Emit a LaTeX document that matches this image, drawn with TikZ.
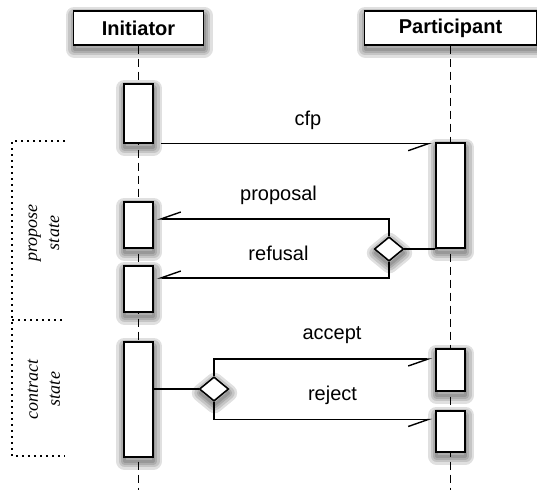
\documentclass[tikz,border=0pt]{standalone}
\usepackage{fontspec}
\setmainfont{Liberation Sans}
\newfontfamily\statefont{Liberation Serif}
\usetikzlibrary{arrows.meta,shapes.geometric,shadows}

\begin{document}
\begin{tikzpicture}[x=1pt, y=-1pt,
    haze/.style={general shadow={shadow xshift=0.5pt, shadow yshift=-4pt, draw=black,
        line join=round, draw opacity=0.12, line width=#1}},
    soft/.style={haze=17pt, haze=12pt, haze=7pt, haze=3pt},
    header/.style={draw, fill=white, line width=1.4pt, minimum width=130pt, minimum height=34pt,
        inner sep=0pt, font=\fontsize{20}{24}\selectfont\bfseries, soft},
    act/.style={draw, fill=white, line width=1.4pt, minimum width=29pt, inner sep=0pt, soft},
    choice/.style={draw, diamond, fill=white, line width=1.4pt, minimum width=29pt,
        minimum height=24pt, inner sep=0pt},
    lifeline/.style={line width=1.5pt, dash pattern=on 8pt off 5pt},
    plain/.style={line width=1.4pt},
    msg/.style={line width=1.4pt, -{Straight Barb[right, length=20pt, width=14pt]}, shorten >=3pt},
    lbl/.style={font=\fontsize{20}{24}\selectfont},
    bracket/.style={line width=1.7pt, dash pattern=on 1.8pt off 4.2pt},
    statelbl/.style={font=\statefont\itshape\fontsize{18}{22}\selectfont, align=center, rotate=90}]

    \useasboundingbox (0,0) rectangle (537,490);

    % state brackets
    \draw[bracket] (65,141) -- (12,141) -- (12,456) -- (65,456);
    \draw[bracket] (12,320) -- (65,320);
    \node[statelbl] (propose) at (44,233) {propose\\state};
    \node[statelbl] (contract) at (44,389) {contract\\state};

    % lifelines
    \node[header] (init) at (138.5,28) {Initiator};
    \node[header, minimum width=172pt] (part) at (450.5,28) {Participant};
    \coordinate (initend) at (138.5,490);
    \coordinate (partend) at (450.5,490);
    \draw[lifeline] (init.south) -- (initend);
    \draw[lifeline] (part.south) -- (partend);

    % activations
    \node[act, minimum height=59pt] (i1) at (138.5,113.5) {};
    \node[act, minimum height=46pt] (i2) at (138.5,225) {};
    \node[act, minimum height=46pt] (i3) at (138.5,289) {};
    \node[act, minimum height=115pt] (i4) at (138.5,399.5) {};
    \node[act, minimum height=105pt] (p1) at (450.5,195.5) {};
    \node[act, minimum height=42pt] (p2) at (450.5,370) {};
    \node[act, minimum height=41pt] (p3) at (450.5,431.5) {};

    % messages
    \node[choice] (d1) at (389,249) {};
    \node[choice] (d2) at (214,389) {};
    \draw[msg] ([xshift=7pt]i1.south east) -- (i1.south east -| p1.west);
    \draw[msg] (d1.north) |- ([yshift=6pt]i2.east);
    \draw[msg] (d1.south) |- ([yshift=11pt]i3.east);
    \draw[plain] (d1.east) -- (d1.east -| p1.west);
    \draw[plain] (i4.east |- d2.west) -- (d2.west);
    \draw[msg] (d2.north) |- ([yshift=11pt]p2.west);
    \draw[msg] (d2.south) |- ([yshift=12pt]p3.west);
    \node[choice, soft] at (d1) {};
    \node[choice, soft] at (d2) {};

    \node[lbl] (cfp) at (308,120) {cfp};
    \node[lbl] (proposal) at (278.5,195) {proposal};
    \node[lbl] (refusal) at (278.5,253) {refusal};
    \node[lbl] (accept) at (332,335) {accept};
    \node[lbl] (reject) at (332.5,395) {reject};

\end{tikzpicture}
\end{document}
